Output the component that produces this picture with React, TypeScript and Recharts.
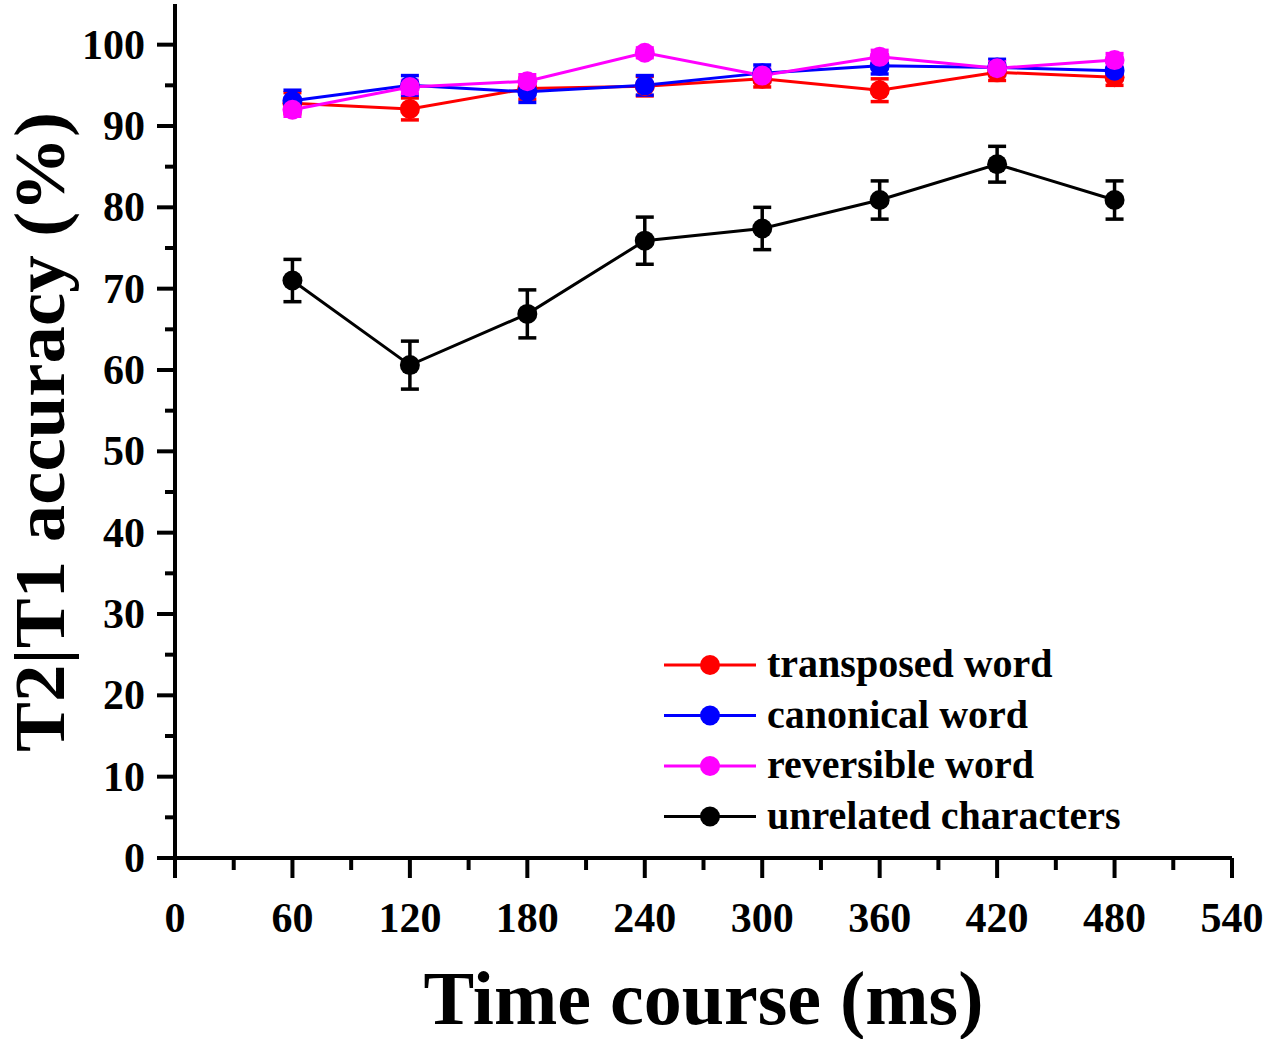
import React from 'react';
import {
  LineChart,
  Line,
  XAxis,
  YAxis,
  ErrorBar,
  Legend,
} from 'recharts';

// SOA in ms
const times = [60, 120, 180, 240, 300, 360, 420, 480];

const transposed = [92.8, 92.1, 94.6, 94.9, 95.8, 94.4, 96.6, 96.0];
const transposedErr = [1.3, 1.35, 1.3, 1.2, 1.0, 1.4, 1.0, 1.0];

const canonical = [93.1, 95.0, 94.2, 95.0, 96.5, 97.4, 97.2, 96.8];
const canonicalErr = [1.3, 1.2, 1.3, 1.2, 1.0, 1.0, 1.0, 1.1];

const reversible = [92.0, 94.8, 95.5, 99.0, 96.2, 98.5, 97.1, 98.1];
const reversibleErr = [0.8, 0.8, 0.8, 0.6, 0.8, 0.8, 0.8, 0.8];

const unrelated = [71.0, 60.6, 66.9, 75.9, 77.4, 80.9, 85.3, 80.9];
const unrelatedErr = [2.6, 2.95, 2.95, 2.9, 2.6, 2.35, 2.2, 2.35];

const xTicks = [0, 30, 60, 90, 120, 150, 180, 210, 240, 270, 300, 330, 360, 390, 420, 450, 480, 510, 540];
const yTicks = [0, 5, 10, 15, 20, 25, 30, 35, 40, 45, 50, 55, 60, 65, 70, 75, 80, 85, 90, 95, 100];

const FONT = "'Liberation Serif', 'Times New Roman', serif";

const data = times.map((t, i) => ({
  t,
  transposed: transposed[i],
  transposedErr: transposedErr[i],
  canonical: canonical[i],
  canonicalErr: canonicalErr[i],
  reversible: reversible[i],
  reversibleErr: reversibleErr[i],
  unrelated: unrelated[i],
  unrelatedErr: unrelatedErr[i],
}));

const series = [
  { key: 'transposed', name: 'transposed word', color: '#ff0000' },
  { key: 'canonical', name: 'canonical word', color: '#0000ff' },
  { key: 'reversible', name: 'reversible word', color: '#ff00ff' },
  { key: 'unrelated', name: 'unrelated characters', color: '#000000' },
];

function XTick({ x, y, payload }: any) {
  const major = payload.value % 60 === 0;
  return (
    <g>
      <line x1={x} x2={x} y1={y} y2={y + (major ? 20 : 12)} stroke="#000" strokeWidth={4} />
      {major && (
        <text x={x} y={y + 74} textAnchor="middle" fontSize={42} fontWeight="bold" fontFamily={FONT} fill="#000">
          {payload.value}
        </text>
      )}
    </g>
  );
}

function YTick({ x, y, payload }: any) {
  const major = payload.value % 10 === 0;
  return (
    <g>
      <line x1={x - (major ? 18 : 10)} x2={x} y1={y} y2={y} stroke="#000" strokeWidth={4} />
      {major && (
        <text x={x - 30} y={y + 14} textAnchor="end" fontSize={42} fontWeight="bold" fontFamily={FONT} fill="#000">
          {payload.value}
        </text>
      )}
    </g>
  );
}

// keep the legend in plotting order (recharts sorts it by name otherwise)
function renderLegend() {
  return (
    <svg width={500} height={210}>
      {series.map((s, i) => {
        const cy = 35 + i * 50.5;
        return (
          <g key={s.key}>
            <line x1={14} x2={106} y1={cy} y2={cy} stroke={s.color} strokeWidth={3} />
            <circle cx={60} cy={cy} r={10} fill={s.color} />
            <text x={117} y={cy + 12} fontSize={40} fontWeight="bold" fontFamily={FONT} fill="#000">
              {s.name}
            </text>
          </g>
        );
      })}
    </svg>
  );
}

export default function App() {
  return (
    <div style={{ position: 'absolute', left: 0, top: 0, background: '#fff' }}>
      <LineChart
        width={1267}
        height={1039}
        data={data}
        margin={{ top: 4, right: 35, left: 0, bottom: 0 }}
      >
        <XAxis
          type="number"
          dataKey="t"
          domain={[0, 540]}
          ticks={xTicks}
          interval={0}
          height={181}
          tickSize={0}
          tickMargin={0}
          tickLine={false}
          axisLine={{ stroke: '#000', strokeWidth: 4 }}
          tick={<XTick />}
          label={() => (
            <text
              x={703.5}
              y={1024}
              textAnchor="middle"
              fontSize={76}
              fontWeight="bold"
              fontFamily={FONT}
              fill="#000"
            >
              Time course (ms)
            </text>
          )}
        />
        <YAxis
          type="number"
          domain={[0, 105]}
          ticks={yTicks}
          interval={0}
          width={175}
          tickSize={0}
          tickMargin={0}
          tickLine={false}
          axisLine={{ stroke: '#000', strokeWidth: 4 }}
          tick={<YTick />}
          label={() => (
            <text
              x={64}
              y={432}
              transform="rotate(-90, 64, 432)"
              textAnchor="middle"
              fontSize={72}
              textLength={640}
              lengthAdjust="spacingAndGlyphs"
              fontWeight="bold"
              fontFamily={FONT}
              fill="#000"
            >
              T2|T1 accuracy (%)
            </text>
          )}
        />
        <Legend
          layout="vertical"
          align="center"
          verticalAlign="middle"
          content={renderLegend}
          wrapperStyle={{ position: 'absolute', left: 650, top: 630, width: 500, height: 210 }}
        />
        {series.map((s) => (
          <Line
            key={s.key}
            type="linear"
            dataKey={s.key}
            name={s.name}
            stroke={s.color}
            strokeWidth={3}
            dot={{ r: 10, fill: s.color, stroke: s.color, strokeWidth: 0 }}
            activeDot={false}
            isAnimationActive={false}
          >
            <ErrorBar
              dataKey={`${s.key}Err`}
              direction="y"
              width={9}
              stroke={s.color}
              strokeWidth={3.5}
              isAnimationActive={false}
            />
          </Line>
        ))}
      </LineChart>
    </div>
  );
}
